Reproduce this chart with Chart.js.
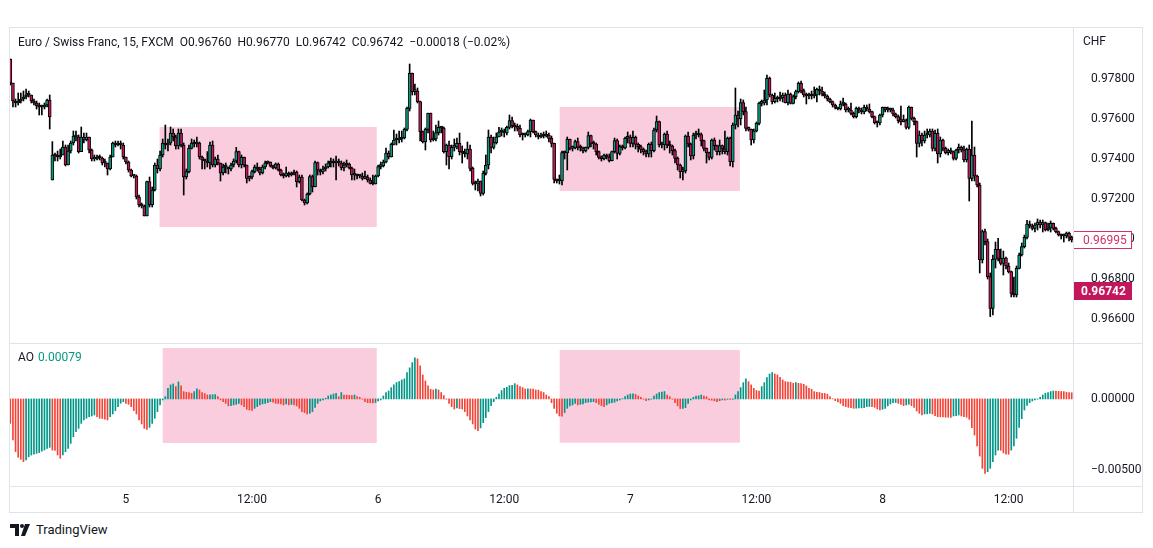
<!DOCTYPE html>
<html lang="en">
<head>
<meta charset="UTF-8">
<title>EUR/CHF 15m + AO</title>
<style>
  body { margin: 0; background: #fff; font-family: Roboto, "Liberation Sans", sans-serif; color: #131722; }
  #wrap { position: relative; width: 1153px; height: 548px; overflow: hidden; }
  canvas { position: absolute; left: 9px; }
  #price { top: 27px; }
  #ao { top: 343px; }
  .ln { position: absolute; background: #e0e3eb; }
  .txt { position: absolute; white-space: nowrap; }
  #head { left: 18px; top: 35px; font-size: 12px; }
  #head span { margin-left: 6px; }
  #aoHead { left: 18px; top: 350px; font-size: 12px; }
  #aoHead b { font-weight: normal; color: #089981; margin-left: 4px; }
  #chf { left: 1083px; top: 34px; font-size: 12px; }
  #logo { left: 10px; top: 522px; font-size: 13px; display: flex; align-items: center; }
  #logo svg { margin-right: 4px; }
</style>
</head>
<body>
<div id="wrap">
  <canvas id="price" width="1134" height="316"></canvas>
  <canvas id="ao" width="1134" height="169"></canvas>

  <div class="ln" style="left:9px; top:27px; width:1134px; height:1px;"></div>
  <div class="ln" style="left:9px; top:27px; width:1px; height:485px;"></div>
  <div class="ln" style="left:1142px; top:27px; width:1px; height:485px;"></div>
  <div class="ln" style="left:1073px; top:27px; width:1px; height:485px;"></div>
  <div class="ln" style="left:9px; top:343px; width:1134px; height:1px;"></div>
  <div class="ln" style="left:9px; top:486px; width:1134px; height:1px;"></div>
  <div class="ln" style="left:9px; top:512px; width:1134px; height:1px;"></div>

  <div class="txt" id="head">Euro / Swiss Franc, 15, FXCM<span>O0.96760</span><span>H0.96770</span><span>L0.96742</span><span>C0.96742</span><span>&minus;0.00018 (&minus;0.02%)</span></div>
  <div class="txt" id="aoHead">AO<b>0.00079</b></div>
  <div class="txt" id="chf">CHF</div>
  <div class="txt" id="logo">
    <svg width="22" height="12" viewBox="0 0 22 12"><path d="M0 0h9v12h-4v-8h-5z" fill="#131722"/><circle cx="12" cy="2" r="2" fill="#131722"/><path d="M15 0h5l-5 12h-4z" fill="#131722"/></svg>TradingView
  </div>
</div>

<script src="https://cdn.jsdelivr.net/npm/chart.js"></script>
<script>
// prices are stored in pips (0.0001) above BASE
const BASE = 0.97;

const closes = [
  78, 69, 68, 69, 70, 71, 72, 72, 69, 68,
  66.5, 66, 66, 67, 69.5, 61, 42, 41.5, 41, 42,
  46, 37, 44, 48, 51.5, 51, 43.7, 51, 49.5, 51,
  44.5, 40, 40, 41, 40.5, 38, 38, 35, 41, 48,
  47, 48, 47, 41, 38.5, 34.5, 31.5, 31.5, 21, 17,
  16.5, 11.5, 28.7, 17, 24.5, 37, 35, 42, 48, 47,
  48, 53, 51, 46.5, 53, 47, 31, 33.7, 45.3, 48,
  47.5, 48, 41, 39.5, 39, 38, 47, 37, 40, 38,
  33, 36, 36, 35, 37, 39, 43.7, 37, 40.8, 37,
  30.3, 31, 33.7, 36, 35, 33, 36, 38, 38.5, 36.5,
  35.5, 37.5, 34.5, 32, 31.5, 33, 32, 32.5, 33.5, 28.7,
  31, 19.5, 18, 22.5, 31.2, 26.2, 38.2, 34.5, 33.5, 35,
  36, 38, 38.5, 38, 38.5, 38, 35.5, 37, 37.5, 35.5,
  32, 32, 31.5, 31.5, 30.3, 31, 29.5, 27.8, 27.5, 31.5,
  36.2, 36.5, 38.5, 43, 41, 47.3, 49.5, 49.5, 50, 50.5,
  54.8, 65.3, 82.8, 73.7, 74, 68.7, 53.7, 48.7, 54.8, 62.8,
  49.5, 50, 53.2, 55.8, 55.5, 43.7, 47, 41.2, 45.8, 46,
  47.8, 43.7, 43, 42.5, 45, 35.3, 27.8, 27.5, 29, 22.8,
  32.8, 37, 51, 45.8, 48.2, 51, 53.5, 53.7, 53, 55.8,
  59.2, 56.5, 56, 55.3, 52, 52, 52, 53.7, 59.5, 53.7,
  52, 51, 52, 51.5, 52, 50.3, 47.8, 29.8, 29, 29,
  43.2, 43, 49.8, 45.3, 45.5, 48.7, 45.8, 45.5, 44, 45.8,
  51.7, 47.8, 47.5, 43.7, 40.8, 40.2, 42, 41, 39.2, 43.7,
  49.2, 42.8, 46.2, 45.5, 50.3, 51, 47.8, 50.8, 47.3, 46.2,
  44.8, 43.7, 42.5, 47.3, 44.2, 54.5, 58.7, 47, 47, 52.5,
  47, 46.5, 44.2, 40.3, 37, 33.7, 34, 51.5, 47.5, 41.5,
  52, 52, 52.2, 49.2, 45.3, 43.2, 40.8, 49.5, 46.7, 43.7,
  46.7, 45, 43.7, 50.3, 38.7, 57, 62, 60, 68.2, 63.7,
  55.3, 54.8, 49.5, 54, 57.8, 67.8, 68, 69.5, 80.3, 72,
  68.7, 70.3, 70, 70.5, 72, 68.2, 72.5, 67.8, 71.2, 73.7,
  77.8, 74.2, 72, 71.5, 72, 71.5, 72, 74.8, 74, 72.5,
  71.5, 70, 68.7, 67, 65.8, 65, 67.5, 67.5, 64.5, 64.5,
  62.8, 61.2, 65.3, 64.5, 63.5, 65.8, 65, 63.7, 61.2, 58.2,
  58, 62, 65.8, 64.5, 64.5, 64.5, 62.5, 61.2, 59.2, 58.7,
  59.2, 55.8, 65.8, 60.3, 58.7, 47.8, 52, 49, 52, 52,
  54, 45.3, 52.8, 42.5, 49.5, 45.3, 43.2, 43.5, 43.7, 40.3,
  44.5, 45.8, 44.5, 39.5, 44.8, 30.3, 42, 31.5, 27, -10.5,
  3.7, -1.3, -18.8, -34.7, -10.2, -5.2, -9.7, -12.2, -9.5, -13.5,
  -16.3, -27.2, -28, -14.7, -8, -3.8, 0.8, 7.5, 6.5, 5.3,
  7, 8.5, 7, 8.2, 4.5, 5.5, 7.8, 5.3, 3.7, 2,
  1.5, 1.5, 3, 0.8, -0.5
];

const opens = [
  90, 78, 69, 68, 69, 70, 71, 72, 72, 69,
  68, 66.5, 66, 66, 67, 69.5, 29.5, 42, 41.5, 41,
  42, 46, 37, 44, 48, 51.5, 51, 43.7, 51, 49.5,
  51, 44.5, 40, 40, 41, 40.5, 38, 38, 35, 41,
  48, 47, 48, 47, 41, 38.5, 34.5, 31.5, 31.5, 21,
  17, 16.5, 11.5, 28.7, 17, 24.5, 37, 35, 42, 48,
  47, 48, 53, 51, 46.5, 53, 47, 31, 33.7, 45.3,
  48, 47.5, 48, 41, 39.5, 39, 38, 47, 37, 40,
  38, 33, 36, 36, 35, 37, 39, 43.7, 37, 40.8,
  37, 30.3, 31, 33.7, 36, 35, 33, 36, 38, 38.5,
  36.5, 35.5, 37.5, 34.5, 32, 31.5, 33, 32, 32.5, 33.5,
  28.7, 31, 19.5, 18, 22.5, 31.2, 26.2, 38.2, 34.5, 33.5,
  35, 36, 38, 38.5, 38, 38.5, 38, 35.5, 37, 37.5,
  35.5, 32, 32, 31.5, 31.5, 30.3, 31, 29.5, 27.8, 27.5,
  31.5, 36.2, 36.5, 38.5, 43, 41, 47.3, 49.5, 49.5, 50,
  50.5, 54.8, 65.3, 82.8, 73.7, 74, 68.7, 53.7, 48.7, 54.8,
  62.8, 49.5, 50, 53.2, 55.8, 55.5, 43.7, 47, 41.2, 45.8,
  46, 47.8, 43.7, 43, 42.5, 45, 35.3, 27.8, 27.5, 29,
  22.8, 32.8, 37, 51, 45.8, 48.2, 51, 53.5, 53.7, 53,
  55.8, 59.2, 56.5, 56, 55.3, 52, 52, 52, 53.7, 59.5,
  53.7, 52, 51, 52, 51.5, 52, 50.3, 47.8, 29.8, 29,
  29, 43.2, 43, 49.8, 45.3, 45.5, 48.7, 45.8, 45.5, 44,
  45.8, 51.7, 47.8, 47.5, 43.7, 40.8, 40.2, 42, 41, 39.2,
  43.7, 49.2, 42.8, 46.2, 45.5, 50.3, 51, 47.8, 50.8, 47.3,
  46.2, 44.8, 43.7, 42.5, 47.3, 44.2, 54.5, 58.7, 47, 47,
  52.5, 47, 46.5, 44.2, 40.3, 37, 33.7, 34, 51.5, 47.5,
  41.5, 52, 52, 52.2, 49.2, 45.3, 43.2, 40.8, 49.5, 46.7,
  43.7, 46.7, 45, 43.7, 50.3, 38.7, 57, 62, 60, 68.2,
  63.7, 55.3, 54.8, 49.5, 54, 57.8, 67.8, 68, 69.5, 80.3,
  72, 68.7, 70.3, 70, 70.5, 72, 68.2, 72.5, 67.8, 71.2,
  73.7, 77.8, 74.2, 72, 71.5, 72, 71.5, 72, 74.8, 74,
  72.5, 71.5, 70, 68.7, 67, 65.8, 65, 67.5, 67.5, 64.5,
  64.5, 62.8, 61.2, 65.3, 64.5, 63.5, 65.8, 65, 63.7, 61.2,
  58.2, 58, 62, 65.8, 64.5, 64.5, 64.5, 62.5, 61.2, 59.2,
  58.7, 59.2, 55.8, 65.8, 60.3, 58.7, 47.8, 52, 49, 52,
  52, 54, 45.3, 52.8, 42.5, 49.5, 45.3, 43.2, 43.5, 43.7,
  40.3, 44.5, 45.8, 44.5, 39.5, 44.8, 30.3, 42, 31.5, 27,
  -10.5, 3.7, -1.3, -18.8, -34.7, -10.2, -5.2, -9.7, -12.2, -9.5,
  -13.5, -16.3, -27.2, -28, -14.7, -8, -3.8, 0.8, 7.5, 6.5,
  5.3, 7, 8.5, 7, 8.2, 4.5, 5.5, 7.8, 5.3, 3.7,
  2, 1.5, 1.5, 3, 0.8
];

const highs = [
  90, 78, 70, 73, 73, 74, 75, 74, 72, 70,
  69, 68, 67, 68, 70, 72, 48.7, 43, 44, 45,
  49, 47, 47, 49, 54, 54, 52, 56, 53, 53,
  51, 45, 42, 42, 42, 41, 40, 38, 42, 48.5,
  49, 49, 49, 48, 41, 39, 35, 32, 32, 22,
  18, 17, 29, 31, 26, 38, 40, 44, 50, 57,
  50, 56, 55, 52, 55, 55, 48, 35, 47, 50,
  49.5, 51, 48.5, 41.5, 40, 43.7, 48.5, 49, 41, 42,
  38, 37.5, 38, 36, 38, 40, 45.8, 44, 42, 41,
  37, 31.5, 34.5, 37, 38, 36, 37, 39, 39, 38.5,
  37, 38, 38, 35, 33, 36, 33.5, 33.5, 34.5, 34,
  32, 32, 20, 23, 32, 32, 39, 38.5, 35, 36.5,
  37.5, 39, 40.5, 40, 41.5, 40, 39, 38.5, 39.5, 38,
  36, 35, 32.5, 32, 33, 34, 32, 30.5, 32, 32,
  37, 38.5, 39.5, 45.5, 44, 48, 54.5, 52.5, 54, 54,
  55.5, 66, 87.5, 83, 77.5, 75.5, 69, 54, 55.5, 63,
  63, 54, 57, 59, 56, 56, 47.5, 49, 47, 50,
  50.5, 53, 46.5, 45, 48.5, 47, 36, 29, 30, 29,
  34, 42, 54.5, 52, 51, 53, 55.8, 55.5, 55, 56.5,
  62, 61, 58, 57.5, 57, 53, 53, 54.5, 60, 59.5,
  54, 53, 53, 53.5, 54, 53, 51.5, 48, 30, 32,
  44, 44, 51, 50, 46.5, 49.5, 50.5, 47, 46, 46,
  53.5, 52, 49, 48, 44, 41.5, 42.5, 42.5, 42.5, 44,
  50.5, 50, 47, 47, 51, 53.5, 52, 54, 51.5, 48,
  47, 45.5, 44.5, 48, 48.5, 55.5, 61.5, 59, 48.5, 53,
  54, 49, 47, 45, 41, 37.5, 36, 52, 53.5, 48,
  53, 54, 55, 53, 49.5, 45.5, 43.5, 50, 50.5, 47,
  49.5, 47, 54, 51, 51, 58, 75.5, 64, 70, 69.5,
  66, 56, 55, 55, 58.5, 68.5, 69.5, 74.5, 82, 81,
  72.5, 73, 71.5, 73.5, 73, 73, 74.5, 73, 72, 74.5,
  78.5, 79, 75, 73, 73, 74, 76, 75.5, 76.5, 76,
  73.5, 72, 70.5, 69, 67.5, 66, 69, 70.5, 68, 66,
  68, 63.5, 66, 66, 65.5, 67, 67, 67.5, 64, 61.5,
  59, 62.5, 66, 66, 66, 65.5, 65.5, 63, 62, 66.5,
  62, 60, 66.5, 66, 61, 59, 54, 53, 54, 55,
  55, 55, 54.5, 55, 51, 50, 46, 45, 45.5, 44,
  45, 47.5, 46.5, 46.5, 45.5, 47, 59, 46, 32, 28,
  4.5, 5, 0, -17, -8, -1.5, 0.3, -5, -6, -9,
  -12, -16, -19, -13.5, -7, -2, 2, 9.3, 9, 7.5,
  8, 10, 9.5, 9.5, 8.5, 8, 9, 8, 6, 4,
  2.5, 2.5, 3.5, 3.5, 1.5
];

const lows = [
  77, 66, 66, 67, 68, 69, 70, 71, 68, 67,
  65, 62, 62, 65, 66, 55, 29.5, 39, 39, 40,
  42, 36.5, 37, 43, 47, 49, 43, 44, 48, 49,
  43, 39, 39, 39.5, 39.5, 37, 36, 32, 34.5, 41,
  46, 46.5, 45, 40, 37.5, 33.5, 31, 30.5, 20, 16,
  15.5, 11.5, 11.5, 16, 16, 24, 33, 34, 41, 45,
  44, 47, 49, 45, 45, 46, 22, 30, 33, 45,
  46, 46, 40, 35, 35, 36, 35, 36, 36, 37,
  29, 32, 33, 32.5, 34, 36, 38, 36, 35.5, 36,
  28, 29, 30, 33, 34, 32, 32.5, 35, 37.5, 36,
  35, 35, 34, 31.5, 30.5, 31, 31, 31.5, 32, 26,
  28, 19, 17, 17.5, 22, 23.5, 26, 32, 32, 32.5,
  34, 35.5, 36, 36, 29.5, 36.5, 34.5, 34, 36, 35,
  29.5, 29.5, 30, 30.5, 29.5, 30, 28.5, 27.5, 27, 27.5,
  31, 35, 36, 38, 40, 41, 47, 47, 48, 48.5,
  50, 54, 64, 72, 72, 68, 49, 48, 44.5, 53,
  48.5, 49, 49, 52, 53, 43, 37, 35, 40, 44,
  45, 42, 38, 41, 40, 34, 27, 24.5, 24, 21.5,
  22, 32, 35, 43, 45, 47.5, 51, 51.5, 51, 52,
  55, 55.5, 54, 54, 51, 49.5, 51, 51.5, 51, 53,
  51, 50, 50.5, 50.5, 51, 48.5, 46, 28, 28, 27.5,
  27, 40, 34.5, 44.5, 44, 45, 44.5, 44, 43, 43.5,
  45, 46, 45, 42, 40, 39, 39.5, 40, 38.5, 39,
  43, 40, 42, 44.5, 45, 48, 46, 46, 45, 43.5,
  43, 42, 41, 41, 41, 43.5, 53.5, 46, 45.5, 44.5,
  45.5, 43, 42, 38, 34.5, 30.5, 29.5, 33, 46, 39.5,
  40, 50, 51, 46.5, 44, 38, 39.5, 40, 44.5, 42,
  42, 42.5, 42.5, 42, 36.5, 36, 55, 56, 57, 62,
  54, 54, 47, 48, 53.5, 57, 66.5, 67, 67, 71,
  67.5, 68, 68.5, 69, 68.5, 68, 67, 67.5, 67.5, 70,
  73, 73, 71, 67.5, 70, 70, 70.5, 68.5, 72, 71.5,
  70.5, 69, 68, 66, 65, 64.5, 64.5, 66.5, 63.5, 63.5,
  62, 60.5, 60.5, 63, 62.5, 62.5, 64, 63, 60.5, 57.5,
  56, 57, 61, 63.5, 63.5, 63.5, 61.5, 60.5, 58, 57,
  58.5, 55, 55, 59.5, 57, 41, 46, 46.5, 48, 50.5,
  51, 44, 44, 38, 41, 44, 42.5, 42, 42.5, 39.5,
  39.5, 43, 43.5, 38.5, 38.5, 19, 29, 29, 26, -17,
  -12, -3, -20, -38.8, -38, -14.5, -11, -13, -18, -15,
  -17, -29, -29, -29, -15, -8.5, -4.5, 0, 5.5, 4.5,
  3.5, 4.5, 5.5, 3.5, 4, 4, 3.5, 4.5, 3, 1.5,
  0, -1.5, 0.5, -1, -1.5
];

// Awesome Oscillator, in units of 0.00001
const aoVals = [
  -172, -289, -371, -411, -425, -442, -430, -407, -395, -388,
  -383, -378, -367, -360, -348, -341, -360, -362, -395, -418,
  -395, -371, -348, -313, -266, -230, -207, -172, -148, -136,
  -125, -120, -113, -125, -136, -138, -143, -148, -125, -106,
  -82, -54, -30, -20, -31, -38, -54, -82, -106, -148,
  -176, -207, -214, -200, -172, -136, -89, -42, -7, 16,
  75, 99, 106, 87, 120, 92, 52, 47, 45, 40,
  52, 71, 63, 45, 38, 28, 29, 30, 31, 16,
  -7, -19, -31, -49, -48, -42, -38, -31, -42, -54,
  -73, -78, -80, -66, -54, -42, -35, -31, -26, -19,
  -23, -31, -32, -35, -42, -35, -42, -38, -42, -49,
  -66, -89, -96, -106, -101, -89, -59, -31, -14, -7,
  5, 21, 28, 35, 40, 16, 45, 28, 27, 26,
  24, 28, 16, 12, -2, -19, -26, -27, -28, -25,
  -14, -7, 21, 45, 56, 80, 99, 115, 122, 134,
  141, 186, 219, 256, 289, 282, 233, 169, 127, 92,
  68, 63, 70, 63, 45, 24, -2, -31, -54, -71,
  -63, -68, -71, -89, -120, -148, -176, -212, -223, -204,
  -167, -132, -89, -47, -19, 12, 35, 59, 75, 82,
  94, 96, 108, 99, 87, 80, 70, 72, 70, 69,
  63, 62, 52, 45, 28, 16, -26, -66, -101, -120,
  -121, -96, -66, -49, -42, -31, -42, -38, -35, -26,
  -23, -21, -19, -26, -38, -47, -54, -42, -31, -26,
  -23, -14, -7, 2, 16, 28, 35, 36, 33, 21,
  12, -2, -12, -7, -2, 21, 35, 45, 49, 52,
  28, 16, -2, -26, -49, -68, -66, -61, -31, -7,
  12, 21, 22, 28, 21, 16, -7, -9, -14, -19,
  -12, -7, -8, -3, -4, -3, 28, 52, 80, 115,
  141, 122, 99, 75, 59, 56, 87, 115, 150, 176,
  186, 176, 169, 153, 134, 122, 118, 117, 110, 115,
  110, 109, 103, 92, 75, 68, 52, 47, 46, 40,
  39, 33, 16, 2, -12, -21, -31, -47, -54, -59,
  -61, -66, -65, -64, -63, -61, -54, -53, -54, -59,
  -71, -78, -73, -66, -49, -35, -26, -25, -31, -38,
  -47, -42, -38, -47, -59, -85, -101, -113, -106, -105,
  -101, -106, -118, -125, -126, -127, -128, -129, -130, -120,
  -118, -113, -120, -125, -129, -143, -202, -254, -331, -402,
  -489, -524, -512, -489, -442, -395, -360, -362, -380, -388,
  -389, -360, -331, -277, -200, -139, -78, -45, -26, -14,
  -7, -2, 12, 28, 40, 45, 52, 56, 55, 54,
  53, 52, 47, 45, 44
];

// x axis: bar index of each labelled time
const tickBars = [44, 92, 140, 188, 236, 284, 332, 380];
const tickLabels = ['5', '12:00', '6', '12:00', '7', '12:00', '8', '12:00'];
const priceTicks = [0.966, 0.968, 0.970, 0.972, 0.974, 0.976, 0.978];
const aoTicks = [0, -0.005];

// highlighted rectangles (bar index range, value range)
const priceBoxes = [
  { from: 56.8, to: 139.5, top: 0.9756, bottom: 0.9706 },
  { from: 209.1, to: 277.7, top: 0.9766, bottom: 0.9724 }
];
const aoBoxes = [
  { from: 58, to: 139.5, top: 0.00359, bottom: -0.0031 },
  { from: 209.1, to: 277.7, top: 0.00345, bottom: -0.00308 }
];

const lastBarPrice = 0.96995;
const livePrice = 0.96742;

const UP = '#089981';
const DOWN = '#c2185b';
const AO_UP = '#009688';
const AO_DOWN = '#f44336';
const BOX = '#facdde';
const TEXT = '#131722';
const FONT = { family: 'Roboto', size: 12 };

const px = p => BASE + p / 10000;
const idx = closes.map((_, i) => i);
const lastIdx = closes.length - 1;

const boxes = {
  id: 'boxes',
  beforeDatasetsDraw(chart, args, opts) {
    const { ctx, scales: { x, y } } = chart;
    ctx.save();
    ctx.fillStyle = BOX;
    opts.list.forEach(b => {
      const x0 = x.getPixelForValue(b.from), x1 = x.getPixelForValue(b.to);
      const y0 = y.getPixelForValue(b.top), y1 = y.getPixelForValue(b.bottom);
      ctx.fillRect(x0, y0, x1 - x0, y1 - y0);
    });
    ctx.restore();
  }
};

const priceTags = {
  id: 'priceTags',
  afterDraw(chart) {
    const { ctx, scales: { y } } = chart;
    const left = y.left;
    ctx.save();
    ctx.textBaseline = 'middle';

    let py = Math.round(y.getPixelForValue(lastBarPrice));
    ctx.fillStyle = '#fff';
    ctx.fillRect(left, py - 9, 59, 18);
    ctx.strokeStyle = '#d0306c';
    ctx.lineWidth = 1;
    ctx.strokeRect(left + 0.5, py - 8.5, 58, 17);
    ctx.font = '12px Roboto';
    ctx.fillStyle = '#d0306c';
    ctx.fillText(lastBarPrice.toFixed(5), left + 10, py + 1);

    py = Math.round(y.getPixelForValue(livePrice));
    ctx.fillStyle = DOWN;
    ctx.fillRect(left, py - 9, 59, 18);
    ctx.font = 'bold 12px Roboto';
    ctx.fillStyle = '#fff';
    ctx.fillText(livePrice.toFixed(5), left + 8, py + 1);
    ctx.restore();
  }
};

function yAxis(min, max, ticks, fmt) {
  return {
    position: 'right', min: min, max: max,
    grid: { display: false }, border: { display: false },
    ticks: { font: FONT, color: TEXT, padding: 10, callback: fmt },
    afterBuildTicks: s => { s.ticks = ticks.map(v => ({ value: v })); },
    afterFit: s => { s.width = 70; s.paddingTop = 0; s.paddingBottom = 0; }
  };
}

new Chart(document.getElementById('price'), {
  type: 'bar',
  data: {
    datasets: [
      {
        label: 'wick',
        data: idx.map(i => ({ x: i, y: [px(lows[i]), px(highs[i])] })),
        backgroundColor: '#000',
        barThickness: 1,
        grouped: false,
        order: 2
      },
      {
        label: 'body',
        data: idx.map(i => ({ x: i, y: [px(opens[i]), px(closes[i])] })),
        backgroundColor: idx.map(i => closes[i] >= opens[i] ? UP : DOWN),
        borderColor: '#000',
        borderWidth: 1,
        borderSkipped: false,
        barThickness: 3,
        minBarLength: 2,
        grouped: false,
        order: 1
      }
    ]
  },
  options: {
    responsive: false,
    animation: false,
    layout: { padding: 0 },
    plugins: { legend: { display: false }, tooltip: { enabled: false }, boxes: { list: priceBoxes } },
    scales: {
      x: { type: 'linear', min: -0.5, max: lastIdx + 0.5, offset: false, display: false },
      y: yAxis(0.9648, 0.9806, priceTicks, v => v.toFixed(5))
    }
  },
  plugins: [boxes, priceTags]
});

new Chart(document.getElementById('ao'), {
  type: 'bar',
  data: {
    datasets: [{
      label: 'AO',
      data: idx.map(i => ({ x: i, y: aoVals[i] / 100000 })),
      backgroundColor: idx.map(i => i > 0 && aoVals[i] >= aoVals[i - 1] ? AO_UP : AO_DOWN),
      barThickness: 1
    }]
  },
  options: {
    responsive: false,
    animation: false,
    layout: { padding: 0 },
    plugins: { legend: { display: false }, tooltip: { enabled: false }, boxes: { list: aoBoxes } },
    scales: {
      x: {
        type: 'linear', min: -0.5, max: lastIdx + 0.5, offset: false,
        grid: { display: false }, border: { display: false },
        ticks: { font: FONT, color: TEXT, padding: -1, maxRotation: 0, autoSkip: false,
                 callback: (v, i) => tickLabels[i] },
        afterBuildTicks: s => { s.ticks = tickBars.map(v => ({ value: v })); },
        afterFit: s => { s.height = 26; s.paddingLeft = 0; s.paddingRight = 0; }
      },
      y: yAxis(-0.00613, 0.00394, aoTicks, v => v === 0 ? '0.00000' : '\u2212' + Math.abs(v).toFixed(5))
    }
  },
  plugins: [boxes]
});
</script>
</body>
</html>
